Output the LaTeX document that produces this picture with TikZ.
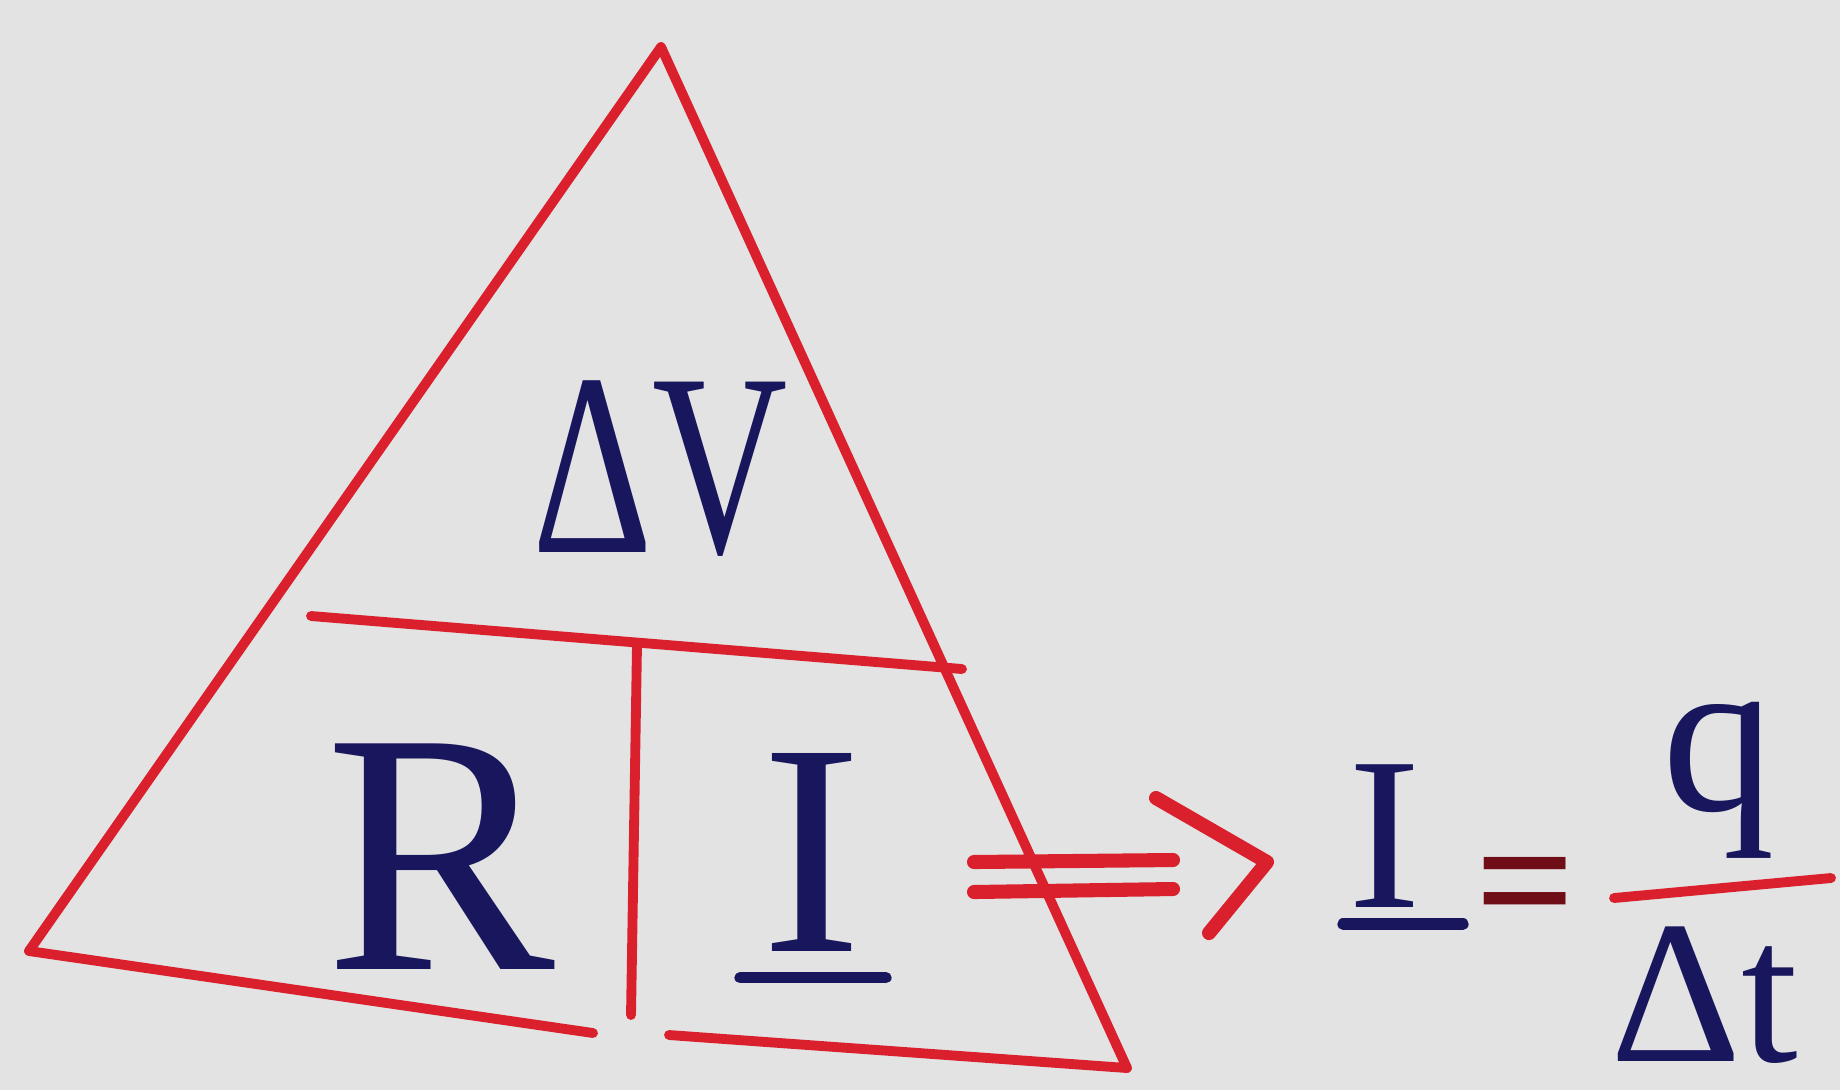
\documentclass[tikz,border=0pt]{standalone}
\usepackage{fontspec}
\setmainfont{Liberation Serif}
\usetikzlibrary{positioning,calc}
\definecolor{paper}{RGB}{227,227,227}
\definecolor{penred}{RGB}{218,32,44}
\definecolor{inkblue}{RGB}{24,22,92}
\definecolor{darkred}{RGB}{112,14,24}

\begin{document}
\begin{tikzpicture}[
        x=0.01cm, y=-0.01cm,
        edge/.style={penred, line width=2.8pt, line cap=round, line join=round},
        sign/.style={penred, line width=4pt, line cap=round, line join=round},
        inkline/.style={inkblue, line width=3.2pt, line cap=round},
        sym/.style={text=inkblue, inner sep=0pt, font=\fontsize{#1pt}{#1pt}\selectfont}
      ]
        \fill[paper] (0,0) rectangle (1840,1090);
        \useasboundingbox (0,0) rectangle (1840,1090);
        % the triangle
        \coordinate (apex) at (661,47);
        \coordinate (lowleft) at (29,951);
        \coordinate (lowright) at (1127,1068);
        \coordinate (gapleft) at (593,1033);
        \coordinate (gapright) at (669,1035);
        \coordinate (splitleft) at (311,616);
        \coordinate (splitright) at (962,669);
        \coordinate (stemtop) at (637,645);
        \coordinate (stembottom) at (631,1015);
        \draw[edge] (lowleft) -- (apex) -- (lowright);
        \draw[edge] (lowleft) -- (gapleft);
        \draw[edge] (gapright) -- (lowright);
        \draw[edge] (splitleft) -- (splitright);
        \draw[edge] (stemtop) -- (stembottom);
        \node[sym=74] (volt) at (660,469) {\scalebox{0.72}[1]{ΔV}};
        \node[sym=98] (resist) at (440,857) {R};
        \node[sym=86] (current) at (812,852) {I};
        \draw[inkline] ($(current.south)+(-72,26)$) -- ($(current.south)+(74,26)$);
        % implies sign
        \draw[sign] (974,862) -- (1173,860);
        \draw[sign] (974,892) -- (1173,889);
        \draw[sign] (1156,798) -- (1267,862) -- (1209,933);
        % I = q / dt
        \node[sym=62] (currnew) at (1385,836) {I};
        \draw[inkline] ($(currnew.south)+(-42,16)$) -- ($(currnew.south)+(78,16)$);
        \node[text=darkred, inner sep=0pt, font=\fontsize{50pt}{50pt}\selectfont\bfseries] (equals) at (1526,898) {=};
        \node[sym=64] (charge) at (1719,780) {q};
        \node[sym=58] (dtime) at (1704,995) {Δt};
        \draw[edge] (1614,898) -- (1831,878);
      \end{tikzpicture}
\end{document}
